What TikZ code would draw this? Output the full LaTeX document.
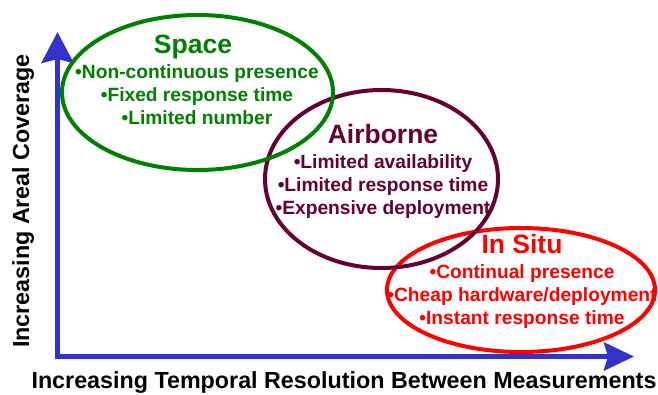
\documentclass[tikz,border=0pt]{standalone}
\usepackage{fontspec}
\setmainfont{Liberation Sans}
\usetikzlibrary{arrows.meta,shapes.geometric}
\definecolor{axisblue}{RGB}{51,51,204}
\definecolor{spacegreen}{RGB}{0,128,0}
\definecolor{airmaroon}{RGB}{102,0,51}
\definecolor{situred}{RGB}{255,0,0}
\begin{document}
\begin{tikzpicture}[x=1pt,y=-1pt,
  zone/.style={ellipse, draw, line width=4pt, inner sep=0pt, outer sep=0pt},
  ztitle/.style={font=\fontsize{26.5}{30}\selectfont\bfseries, anchor=base, inner sep=0pt},
  zline/.style={font=\fontsize{19.2}{23}\selectfont\bfseries, anchor=base, inner sep=0pt},
  axislabel/.style={font=\fontsize{23.3}{27}\selectfont\bfseries, anchor=base, inner sep=0pt, text=black},
  axisline/.style={draw=axisblue, line width=5pt, line join=miter,
    {Stealth[length=31pt,width=32pt,inset=4pt]}-{Stealth[length=30pt,width=28pt,inset=4pt]}}
]
\useasboundingbox (0,0) rectangle (658,394);

% axes
\coordinate (origin) at (57.5,356.5);
\coordinate (ytip) at (57.5,32);
\coordinate (xtip) at (634,356.5);
\draw[axisline] (ytip) -- (origin) -- (xtip);

% zones (red under maroon under green)
\node[zone, draw=situred, minimum width=268pt, minimum height=124pt] (insitu) at (521,290) {};
\node[zone, draw=airmaroon, minimum width=233pt, minimum height=178pt] (airborne) at (381.5,179) {};
\node[zone, draw=spacegreen, minimum width=271pt, minimum height=155pt] (space) at (197.5,92.5) {};

% Space texts
\node[ztitle, text=spacegreen] (spacetitle) at (193,53) {Space};
\node[zline, text=spacegreen] (space1) at (197,78) {•Non-continuous presence};
\node[zline, text=spacegreen] (space2) at (197,101) {•Fixed response time};
\node[zline, text=spacegreen] (space3) at (197,124) {•Limited number};

% Airborne texts
\node[ztitle, text=airmaroon] (airtitle) at (383,143) {Airborne};
\node[zline, text=airmaroon] (air1) at (383,168) {•Limited availability};
\node[zline, text=airmaroon] (air2) at (383,191) {•Limited response time};
\node[zline, text=airmaroon] (air3) at (383,214) {•Expensive deployment};

% In Situ texts
\node[ztitle, text=situred] (situtitle) at (522,253) {In Situ};
\node[zline, text=situred] (situ1) at (522,278) {•Continual presence};
\node[zline, text=situred] (situ2) at (522,301) {•Cheap hardware/deployment};
\node[zline, text=situred] (situ3) at (522,324) {•Instant response time};

% axis labels
\node[axislabel] (xlabel) at (344,388) {Increasing Temporal Resolution Between Measurements};
\node[axislabel, rotate=90] (ylabel) at (29,201) {Increasing Areal Coverage};
\end{tikzpicture}
\end{document}
